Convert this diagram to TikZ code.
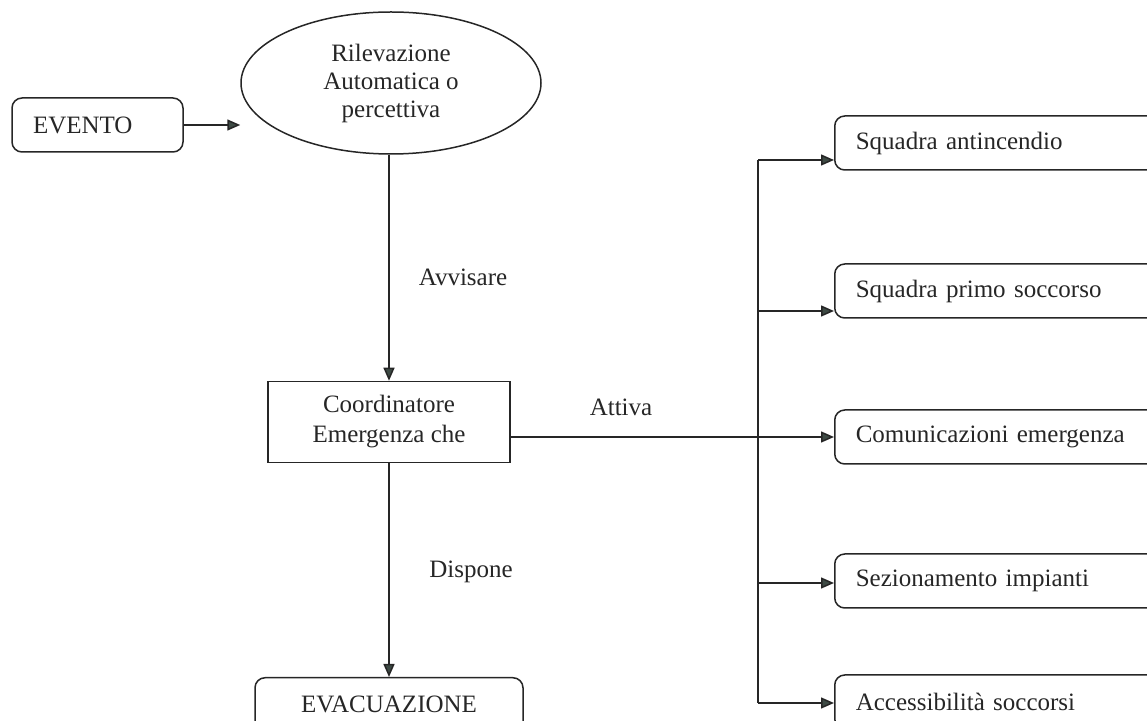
\documentclass[tikz,border=0pt]{standalone}
\usepackage{fontspec}
\setmainfont{Liberation Serif}
\usetikzlibrary{arrows.meta,shapes.geometric}

\definecolor{tipgreen}{HTML}{3D4A44}

\tikzset{
	roundbox/.style={draw, rounded corners=5pt, minimum height=27pt, inner xsep=10.5pt},
	actbox/.style={roundbox, anchor=west, text width=150pt, align=left},
	lbl/.style={inner sep=0pt}
}

\begin{document}
\begin{tikzpicture}[x=0.5pt, y=-0.5pt, every node/.style={font=\fontsize{12.5}{14}\selectfont}, >={Triangle[length=6.5pt, width=5.5pt, fill=tipgreen]}, line width=0.75pt, black!85]
	\useasboundingbox (0,0) rectangle (1147,721);
	\clip (0,0) rectangle (1147,721);
	% left column
	\node[roundbox, text width=64.5pt, align=left] (evento) at (97.5,125) {EVENTO};
	\node[draw, ellipse, minimum width=150pt, minimum height=71pt, inner sep=0pt, align=center] (rilev) at (391,83) {Rilevazione\\ Automatica o\\ percettiva};
	\node[draw, minimum width=121pt, minimum height=40.5pt, align=center, font=\fontsize{12.5}{15}\selectfont] (coord) at (389,422) {Coordinatore\\ Emergenza che};
	\node[roundbox, minimum width=134pt, anchor=north] (evac) at (389,677) {EVACUAZIONE};
	% right column
	\node[actbox] (anti) at (834,143) {Squadra antincendio};
	\node[actbox] (primo) at (834,291) {Squadra primo soccorso};
	\node[actbox] (comm) at (834,437) {Comunicazioni emergenza};
	\node[actbox] (sez) at (834,581) {Sezionamento impianti};
	\node[actbox] (acc) at (834,702) {Accessibilità soccorsi};
	% connectors
	\draw[->] (evento.east) -- (evento.east -| rilev.west);
	\draw[->] (rilev.south -| coord.north) -- (coord.north);
	\draw[->] (coord.south) -- (evac.north);
	\draw[->] ([yshift=-7.5pt]coord.east) -- (comm.west);
	\coordinate (b1) at (758,160);
	\coordinate (b2) at (758,311);
	\coordinate (b4) at (758,583);
	\coordinate (b5) at (758,703);
	\draw (b1) -- (b5);
	\draw[->] (b1) -- (b1 -| anti.west);
	\draw[->] (b2) -- (b2 -| primo.west);
	\draw[->] (b4) -- (b4 -| sez.west);
	\draw[->] (b5) -- (b5 -| acc.west);
	% labels
	\node[lbl] (avvisare) at (463,277) {Avvisare};
	\node[lbl] (attiva) at (621,407) {Attiva};
	\node[lbl] (dispone) at (471,572) {Dispone};
\end{tikzpicture}
\end{document}
